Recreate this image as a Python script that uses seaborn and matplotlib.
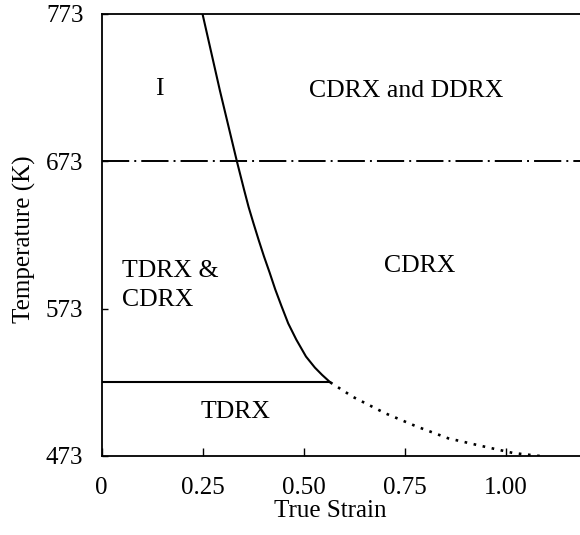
import matplotlib
matplotlib.use("Agg")
import matplotlib.pyplot as plt
import seaborn as sns
import pandas as pd

# Boundary between the TDRX & CDRX field and the CDRX field (solid line)
solid_strain = [0.250, 0.293, 0.335, 0.353, 0.364, 0.376, 0.389, 0.402,
                0.416, 0.430, 0.445, 0.462, 0.482, 0.506, 0.528, 0.546, 0.566]
solid_temp = [773, 721, 673, 653.5, 642, 631, 619.5, 608.5,
              597.5, 586, 575, 563, 552, 540.5, 533, 528, 523]

# Extrapolated continuation of that boundary (dotted line)
dotted_strain = [0.566, 0.623, 0.702, 0.780, 0.858, 0.937, 1.019, 1.085]
dotted_temp = [523, 513, 502, 493, 485, 480, 475, 473]

# Horizontal boundaries
ddrx_onset_temp = 673           # above this DDRX also operates (dash-dot)
tdrx_temp = 523                 # below this only TDRX (solid)
tdrx_end_strain = 0.566

x_ticks = [0, 0.25, 0.50, 0.75, 1.00]
x_tick_labels = ["0", "0.25", "0.50", "0.75", "1.00"]
y_ticks = [473, 573, 673, 773]
y_tick_labels = ["473", "573", "673", "773"]

# Region names and where they sit (strain, temperature at baseline, alignment)
region_labels = ["I", "CDRX and DDRX", "TDRX &", "CDRX", "CDRX", "TDRX"]
region_x = [0.132, 0.754, 0.051, 0.051, 0.788, 0.244]
region_y = [718, 717, 594.5, 574.5, 598, 499]
region_ha = ["left", "center", "left", "left", "center", "left"]

sns.set_theme(style="ticks")
plt.rcParams["font.family"] = ["Liberation Serif", "DejaVu Serif"]
plt.rcParams["axes.edgecolor"] = "black"

fig = plt.figure(figsize=(5.80, 5.35), dpi=100)
W, H = 580, 535
ax = fig.add_axes([101.5 / W, 79 / H, 1 - 101.5 / W, 442 / H])

solid_df = pd.DataFrame({"strain": solid_strain, "temp": solid_temp})
dotted_df = pd.DataFrame({"strain": dotted_strain, "temp": dotted_temp})

sns.lineplot(data=solid_df, x="strain", y="temp", ax=ax, color="black",
             lw=1.5, estimator=None, sort=False)
sns.lineplot(data=dotted_df, x="strain", y="temp", ax=ax, color="black",
             lw=1.9, estimator=None, sort=False, linestyle=(0, (1, 2.5)))

ax.axhline(ddrx_onset_temp, color="black", lw=1.4,
           linestyle=(0, (14, 2.6, 1, 2.6)))
ax.plot([0, tdrx_end_strain], [tdrx_temp, tdrx_temp], color="black", lw=1.5)

for txt, x, y, ha in zip(region_labels, region_x, region_y, region_ha):
    ax.text(x, y, txt, ha=ha, va="baseline", fontsize=18.5, color="black")

ax.set_xlim(0, 1.184)
ax.set_ylim(473, 773)
ax.set_xticks(x_ticks)
ax.set_xticklabels(x_tick_labels)
ax.set_yticks(y_ticks)
ax.set_yticklabels(y_tick_labels)

ax.tick_params(axis="x", direction="in", length=6, width=1, pad=15,
               labelsize=18, colors="black")
ax.tick_params(axis="y", direction="in", length=4, width=1, pad=13,
               labelsize=18, colors="black")

for side in ["left", "bottom", "top"]:
    ax.spines[side].set_linewidth(1.3)
    ax.spines[side].set_color("black")
ax.spines["right"].set_visible(False)

ax.set_xlabel("True Strain", fontsize=18, color="black")
ax.set_ylabel("Temperature (K)", fontsize=18, color="black")
ax.xaxis.set_label_coords(0.4775, -0.099)
ax.yaxis.set_label_coords(-0.137, 0.49)

fig.savefig("out.png", dpi=100, facecolor="white")
